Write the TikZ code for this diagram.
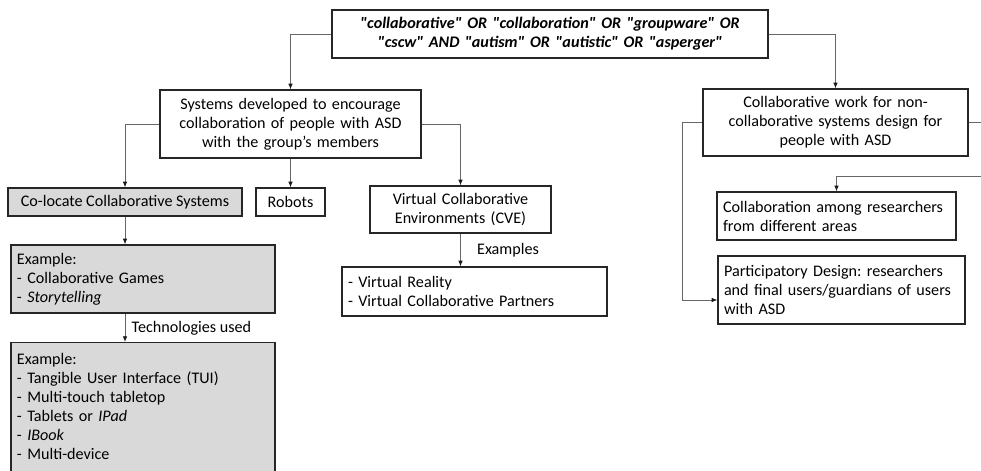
\documentclass[tikz,border=0pt]{standalone}
\usepackage{fontspec}
\setmainfont{Carlito}[Ligatures=TeXOff]
\usetikzlibrary{arrows.meta}
\frenchspacing

\begin{document}
\begin{tikzpicture}[x=0.7pt, y=-0.7pt,
    box/.style = {draw=black!85, line width=0.9pt, inner xsep=4.2pt, inner ysep=2pt,
                  text=black, font=\fontsize{11.3}{13.3}\selectfont},
    graybox/.style = {box, fill=black!15},
    link/.style = {-{Latex[length=4pt,width=3.2pt,color=black!90]}, draw=black!60, line width=0.6pt},
    lbl/.style = {text=black, font=\fontsize{11.3}{13.3}\selectfont}]
            \useasboundingbox (0,0) rectangle (981,470);
            \clip (0,0) rectangle (981,470);
            % search string
            \node[box, align=center, text width=296.8pt, minimum height=33.6pt,
                  font=\fontsize{11.3}{13.3}\selectfont\bfseries\itshape] (query) at (550,34)
                {"collaborative" OR "collaboration" OR "groupware" OR\\"cscw" AND "autism" OR "autistic" OR "asperger"};
            % left branch
            \node[box, align=center, text width=174.3pt, minimum height=47.6pt] (systems) at (290.5,124)
                {Systems developed to encourage\\collaboration of people with ASD\\with the group’s members};
            \node[graybox, minimum width=163.8pt, minimum height=19.6pt] (colocate) at (125,202) {Co-locate Collaborative Systems};
            \node[box, minimum width=48.3pt, minimum height=19.6pt] (robots) at (290.5,202) {Robots};
            \node[box, align=center, text width=118.3pt, minimum height=32.9pt] (cve) at (460.5,209.5)
                {Virtual Collaborative\\Environments (CVE)};
            \node[box, align=left, text width=177.1pt, minimum height=34.3pt] (vr) at (474.5,291.5)
                {- Virtual Reality\\- Virtual Collaborative Partners};
            \node[graybox, align=left, text width=176.4pt, minimum height=47.6pt] (games) at (143,279)
                {Example:\\- Collaborative Games\\- \textit{Storytelling}};
            \node[graybox, anchor=north, align=left, text width=176.4pt, minimum height=90pt] (tech) at (143,342)
                {Example:\\- Tangible User Interface (TUI)\\- Multi-touch tabletop\\- Tablets or \textit{IPad}\\- \textit{IBook}\\- Multi-device};
            % right branch
            \node[box, align=center, text width=177.1pt, minimum height=46.9pt] (collab) at (835.5,122.5)
                {Collaborative work for non-\\collaborative systems design for\\people with ASD};
            \node[box, align=left, text width=158.9pt, minimum height=33.6pt] (among) at (836.5,216)
                {Collaboration among researchers\\from different areas};
            \node[box, align=left, text width=164.5pt, minimum height=47.6pt] (particip) at (841.5,290)
                {Participatory Design: researchers\\and final users/guardians of users\\with ASD};
            \coordinate (offright) at (995,176);

            \draw[link] (query.west) -| (systems.north);
            \draw[link] (query.east) -| (collab.north);
            \draw[link] (systems.west) -| (colocate.north);
            \draw[link] (systems.south) -- (robots.north);
            \draw[link] (systems.east) -| (cve.north);
            \draw[link] (cve.south) -- (cve.south |- vr.north) node[lbl, midway, right=8pt] {Examples};
            \draw[link] (colocate.south) -- (colocate.south |- games.north);
            \draw[link] (games.south -| colocate.south) -- (tech.north -| colocate.south)
                node[lbl, midway, right=1pt] {Technologies used};
            \draw[link] (collab.west) -- ++(-20,0) |- ([yshift=-7pt]particip.west);
            \draw[link] (collab.east) -| (offright) -| (among.north);
        \end{tikzpicture}
\end{document}
